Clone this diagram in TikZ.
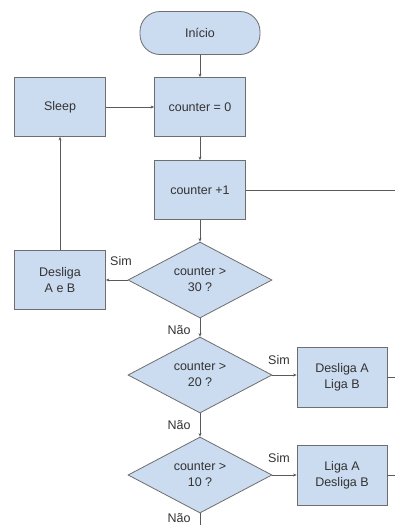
\documentclass[tikz,border=0pt]{standalone}
\usepackage{fontspec}
\setmainfont{Liberation Sans}
\usetikzlibrary{shapes.geometric,arrows.meta}
\definecolor{boxfill}{HTML}{CBDBF0}
\definecolor{boxline}{HTML}{6E6E6E}
\definecolor{wire}{HTML}{5A5A5A}
\definecolor{ink}{HTML}{333333}
\tikzset{
  base/.style={draw=boxline, fill=boxfill, line width=0.8pt, text=ink,
    font=\fontsize{12.5}{16}\selectfont, align=center, inner sep=0pt},
  procbox/.style={base, rectangle, minimum width=91pt, minimum height=59pt},
  smallbox/.style={base, rectangle, minimum width=90pt, minimum height=60pt},
  terminal/.style={base, rectangle, rounded corners=20pt, minimum width=120pt, minimum height=43pt},
  decision/.style={base, diamond, aspect=1.9, minimum width=144pt, minimum height=76pt},
  flow/.style={draw=wire, line width=0.6pt, -{Stealth[length=3.5pt,width=3pt]}},
  plain/.style={draw=wire, line width=0.6pt},
  lbl/.style={text=ink, font=\fontsize{12.5}{15}\selectfont, inner sep=0pt}
}
\begin{document}
\begin{tikzpicture}[x=1pt, y=-1pt]
  \useasboundingbox[fill=white] (0,0) rectangle (395,525);

  \node[terminal] (inicio) at (200,33) {Início};
  \node[procbox] (zero) at (200,107) {counter = 0};
  \node[procbox] (sleep) at (60,107) {Sleep};
  \node[procbox] (inc) at (200,190) {counter +1};
  \node[decision] (d30) at (200,280) {counter >\\30 ?};
  \node[procbox] (offab) at (60,280) {Desliga\\A e B};
  \node[decision] (d20) at (200,375) {counter >\\20 ?};
  \node[smallbox] (offa) at (342,377) {Desliga A\\Liga B};
  \node[decision] (d10) at (200,475) {counter >\\10 ?};
  \node[smallbox] (ona) at (342,475) {Liga A\\Desliga B};

  \coordinate (incout) at (395,190);
  \coordinate (offaout) at (395,377);
  \coordinate (onaout) at (395,475);
  \coordinate (d10out) at (200,525);

  \draw[flow] (inicio) -- (zero);
  \draw[flow] (sleep) -- (zero);
  \draw[flow] (zero) -- (inc);
  \draw[flow] (inc) -- (d30);
  \draw[plain] (inc.east) -- (incout);
  \draw[flow] (d30.west) -- (offab.east);
  \draw[flow] (offab) -- (sleep);
  \draw[flow] (d30.south) -- (d20.north);
  \draw[flow] (d20.east) -- (d20.east -| offa.west);
  \draw[plain] (offa.east) -- (offaout);
  \draw[flow] (d20.south) -- (d10.north);
  \draw[flow] (d10.east) -- (ona.west);
  \draw[plain] (ona.east) -- (onaout);
  \draw[plain] (d10.south) -- (d10out);

  \node[lbl] (sim30) at (121,261) {Sim};
  \node[lbl] (nao30) at (179,330) {Não};
  \node[lbl] (sim20) at (279,360) {Sim};
  \node[lbl] (nao20) at (179,425) {Não};
  \node[lbl] (sim10) at (279,458) {Sim};
  \node[lbl] (nao10) at (179,518) {Não};
\end{tikzpicture}
\end{document}
